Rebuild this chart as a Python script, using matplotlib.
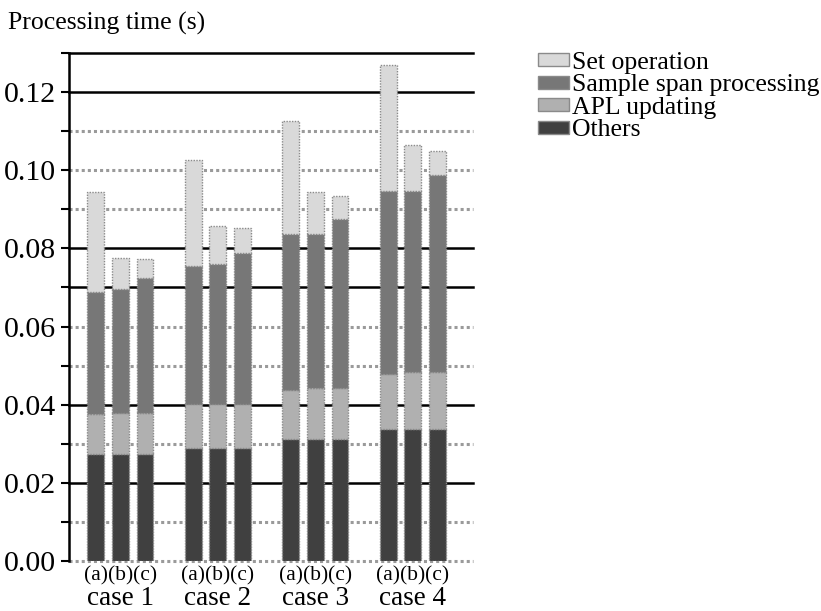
import matplotlib
matplotlib.use("Agg")
import matplotlib.pyplot as plt
from matplotlib.patches import Patch
from matplotlib.transforms import blended_transform_factory
import numpy as np

plt.rcParams['font.family'] = ['Liberation Serif', 'DejaVu Serif']

# Data: per-component processing times (s), one row per case, columns (a)(b)(c)
cases = ["case 1", "case 2", "case 3", "case 4"]
variants = ["(a)", "(b)", "(c)"]
components = ["Set operation", "Sample span processing", "APL updating", "Others"]

others = [[0.0274, 0.0274, 0.0274],
          [0.0290, 0.0290, 0.0290],
          [0.0311, 0.0311, 0.0311],
          [0.0337, 0.0337, 0.0337]]
apl_updating = [[0.0101, 0.0106, 0.0106],
                [0.0113, 0.0113, 0.0111],
                [0.0126, 0.0131, 0.0131],
                [0.0141, 0.0146, 0.0146]]
sample_span = [[0.0314, 0.0315, 0.0343],
               [0.0352, 0.0358, 0.0386],
               [0.0399, 0.0394, 0.0433],
               [0.0469, 0.0463, 0.0506]]
set_operation = [[0.0256, 0.0081, 0.0049],
                 [0.0272, 0.0096, 0.0065],
                 [0.0290, 0.0109, 0.0059],
                 [0.0321, 0.0119, 0.0060]]

colors = {"Others": "#404040", "APL updating": "#b0b0b0",
          "Sample span processing": "#777777", "Set operation": "#d9d9d9"}

fig = plt.figure(figsize=(8.21, 6.11), dpi=100)
ax = fig.add_axes([0.084, 0.0818, 0.492, 0.8315])

# Horizontal rules every 0.01 (some drawn solid black, the rest grey dotted)
solid_levels = {0.02, 0.04, 0.07, 0.08, 0.12, 0.13}
for k in range(14):
    lvl = round(k * 0.01, 2)
    if lvl in solid_levels:
        ax.axhline(lvl, color="black", lw=1.8, zorder=0, clip_on=False)
    else:
        ax.axhline(lvl, color="#9a9a9a", lw=2.2, ls=(0, (1, 1)), zorder=0, clip_on=False)

offsets = np.array([-0.252, 0.0, 0.252])
width = 0.174
edge = dict(edgecolor="#8a8a8a", linewidth=1.0, linestyle=(0, (1, 1)))

for ci in range(len(cases)):
    xs = ci + offsets
    bottom = np.zeros(3)
    for name, series in [("Others", others), ("APL updating", apl_updating),
                         ("Sample span processing", sample_span),
                         ("Set operation", set_operation)]:
        vals = np.array(series[ci])
        ax.bar(xs, vals, width, bottom=bottom, color=colors[name], zorder=3, **edge)
        bottom += vals

ax.set_xlim(-0.528, 3.615)
ax.set_ylim(0, 0.13)

for s in ["top", "right", "bottom"]:
    ax.spines[s].set_visible(False)
ax.spines["left"].set_linewidth(1.8)

major = np.arange(0, 0.121, 0.02)
ax.set_yticks(major)
ax.set_yticklabels([f"{v:.2f}" for v in major], fontsize=21.5)
ax.set_yticks(np.arange(0, 0.131, 0.01), minor=True)
ax.tick_params(axis="y", which="both", length=6, width=1.5, direction="out", pad=3)
ax.set_xticks([])

# Bar labels and case names under the axis
trans = blended_transform_factory(ax.transData, ax.transAxes)
for ci, case in enumerate(cases):
    for off, v in zip(offsets, variants):
        ax.text(ci + off, -0.010, v, transform=trans, ha="center", va="top", fontsize=15.5)
    ax.text(ci, -0.050, case, transform=trans, ha="center", va="top", fontsize=19.5)

fig.text(0.010, 0.962, "Processing time (s)", fontsize=18.5, ha="left", va="center")

handles = [Patch(facecolor=colors[c], edgecolor="#8a8a8a", linewidth=1.0) for c in components]
leg = fig.legend(handles, components, loc="upper left", bbox_to_anchor=(0.655, 0.915),
                 frameon=False, fontsize=18.5, handlelength=1.2, handleheight=0.42,
                 handletextpad=0.12, labelspacing=0.02, borderaxespad=0, borderpad=0)

fig.savefig("out.png", dpi=100)
